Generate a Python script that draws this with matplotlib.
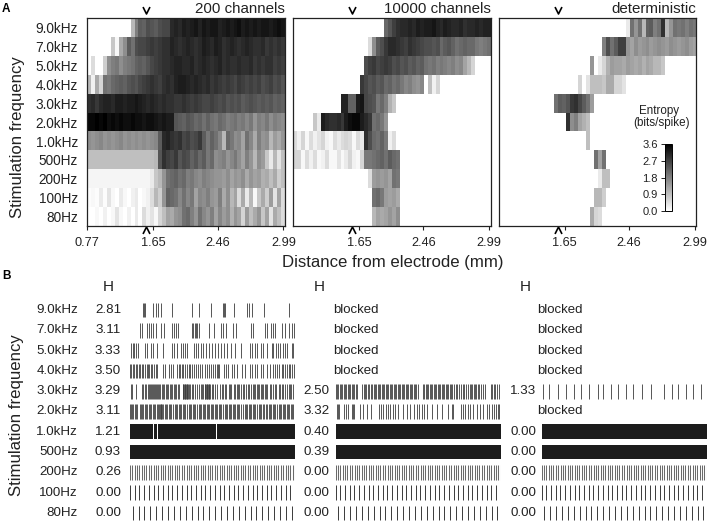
import numpy as np
import matplotlib
matplotlib.use("Agg")
import matplotlib.pyplot as plt
from matplotlib.path import Path

plt.rcParams['font.family'] = ['Liberation Sans', 'DejaVu Sans']

W, H = 708, 524
freq_labels = ["9.0kHz", "7.0kHz", "5.0kHz", "4.0kHz", "3.0kHz", "2.0kHz", "1.0kHz", "500Hz", "200Hz", "100Hz", "80Hz"]
distance_labels = ["0.77", "1.65", "2.46", "2.99"]
distance_bins = [0, 16.7, 33, 49.6]
panel_titles = ["200 channels", "10000 channels", "deterministic"]
cbar_ticks = [0.0, 0.9, 1.8, 2.7, 3.6]
marker_bin = 14.9

# ---- A: entropy (bits/spike) per distance bin
A200 = [
 [0]*11 + [1.0,1.8,2.3,2.2,2.5,2.4,2.3,2.5,2.6, 2.6,3.0,3.1,3.0,3.2,3.1,3.2,3.3,3.1,3.3, 3.2,3.3,3.3,3.1,3.2,3.3,3.2,3.3,3.4,3.2, 3.3,3.2,3.3,3.2,3.3,3.3,3.2,3.3,3.4,3.3],
 [0,0,0,0,0,0,0.8,0.1,1.2,1.6, 2.3,2.0,2.5,2.6,2.6,2.7,2.8,2.7,2.8,2.9, 2.9,3.1,3.0,2.9,3.0,3.1,3.0,2.9,3.0,3.2, 3.1,3.0,3.2,3.1,2.9,3.0,3.1,3.0,2.9,3.0, 3.1,3.0,2.9,2.9,3.0,2.8,2.9,2.8,2.9,2.8],
 [0,0.5,0,0,0.7,1.6,1.8,1.9,1.6,1.8, 1.9,2.0,2.2,2.3,2.2,2.4,2.6,2.7,2.8,2.9, 2.9,3.0,3.1,3.1,3.0,3.0,3.1,2.9,3.0,3.1, 3.0,2.9,3.0,3.1,2.9,3.0,2.9,2.9,3.0,2.9, 2.9,3.0,2.8,2.9,2.8,2.9,2.9,2.7,2.8,2.7],
 [1.0,0.2,1.2,0.6,2.0,1.9,2.1,2.2,2.3,2.2, 2.4,2.5,2.4,2.6,2.7,2.8,2.9,2.8,2.7,2.9, 3.0,2.9,3.1,3.2,3.2,3.1,3.0,3.1,3.0,2.9, 3.0,2.8,2.9,2.8,2.7,2.8,2.7,2.6,2.8,2.7, 2.6,2.7,2.6,2.7,2.5,2.6,2.7,2.5,2.6,2.4],
 [2.9,3.0,2.8,3.0,3.1,3.1,3.0,3.2,3.2,3.1, 3.2,3.2,3.3,3.2,3.1,3.0,3.1,3.0,2.9,3.0, 2.9,2.9,2.8,2.8,2.9,2.8,2.7,2.8,2.7,2.6, 2.6,2.7,2.6,2.5,2.6,2.4,2.5,2.4,2.5,2.3, 2.4,2.5,2.4,2.3,2.4,2.3,2.4,2.2,2.3,2.2],
 [3.5,3.5,3.6,3.5,3.6,3.4,3.5,3.4,3.5,3.4, 3.4,3.5,3.4,3.4,3.3,3.4,3.4,3.3,3.2,3.3, 3.2,3.2,2.4,2.3,2.2,2.4,2.3,2.1,2.2,2.0, 2.2,2.0,1.9,2.1,2.0,1.8,1.9,2.0,1.8,1.9, 1.7,1.9,1.5,1.8,1.7,1.9,1.6,1.8,1.7,1.6],
 [1.6,1.5,1.6,1.7,1.5,1.6,1.5,1.6,1.7,1.5, 1.6,1.5,1.6,1.5,1.6,1.5,1.6,1.7,2.3,3.0, 3.1,2.9,2.8,2.9,2.6,2.7,2.5,2.6,2.8,2.3, 1.9,2.2,2.0,1.7,1.0,2.1,1.9,1.6,1.7,1.3, 2.0,1.7,1.2,1.8,1.5,1.6,1.0,1.4,1.2,1.5],
 [0.9]*17 + [1.0,2.4,2.9,2.7,2.6,2.8,2.4,2.6,2.5,2.2,2.4,2.1,2.3,1.9,2.1,1.6,1.7,1.8,1.5,1.7,1.9,1.6,1.3,1.8,1.5,1.0,1.6,1.4,0.8,0.3,1.0,0.4,0.9],
 [0.15]*16 + [0.3,0.8,1.0,1.5,2.0,2.1,2.2,2.0,2.1,1.8,1.9,1.7,1.6,1.8,1.7,1.6,1.5,1.5,1.4,1.6,1.3,1.5,1.4,1.6,1.2,1.5,1.3,1.4,1.1,1.2,0.9,1.2,0.7,0.9],
 [0.05,0.1,0.05,0.3,0.05,0.4,0.1,0.0,0.3,0.1, 0.0,0.2,0.3,0.0,0.1,0.2, 0.5,1.0,0.7,1.5, 2.2,2.1,2.0,1.7,2.0,1.7,1.9,1.3,1.7,1.6, 1.8,1.5,1.4,1.8,1.2,1.6,1.0,1.3,0.5,1.2, 0.3,1.0,0.1,0.8,1.2,0.7,1.4,0.4,1.3,0.5],
 [0,0,0.1,0,0.2,0,0.1,0.4,0.1,0, 0.2,0,0.3,0,0.5,0.2,0.4,0.1,0.6,0.9, 1.3,1.2,1.5,1.6,2.0,2.1,1.8,1.5,2.0,1.7, 1.5,1.8,1.3,1.7,1.4,1.6,1.1,1.5,1.3,0.6, 1.4,0.9,1.2,1.5,0.8,1.3,0.4,1.2,0.9,0.5],
]
A10000 = [
 [0]*23 + [2.1,2.4,2.7,2.9,3.0,3.0,3.1,3.0,3.2,3.1,3.2,3.2,3.3,3.1,3.0,3.2,3.1,3.0,3.0,3.1,2.9,3.0,3.0,3.1,3.0,3.1,3.1],
 [0]*19 + [0.5,1.6,2.3,2.5,2.8,3.0,3.0,2.9,2.8,2.7, 2.9,2.8,2.7,2.6,2.5,2.5,2.4,2.5,2.1,2.3, 2.4,2.2,2.0,2.1,2.2,2.1,2.1,1.9,1.8,1.9, 2.0],
 [0]*18 + [2.5,2.7,2.8,2.6,2.7,2.8,2.7,2.5,2.6,2.4, 2.5,2.3,2.4,2.2,2.3,2.0,1.9,2.0,1.8,1.9, 1.8,1.7,1.8,1.6,1.7,1.3,1.0,0.6],
 [0]*17 + [2.8,2.6,2.4,2.5,2.3,2.4,2.1,2.2,2.0,2.1, 1.9,1.7,1.8,1.6,1.5,1.7,0,0.9,0.2,0.6],
 [0]*12 + [3.1,3.1,2.2,2.2,3.2,3.3,2.6,2.5,2.4,1.9,2.1,1.8,1.1,0.8],
 [0]*5 + [0.8,0.3,3.2,3.0,2.9,2.9,3.0,2.8,3.2,3.4,3.5,3.5,3.2,3.0,2.8,2.0,2.1,1.9,1.5],
 [0.5,0.2,0.6,0.1,0.5,0.2,0.4,0.6,0.2,0.1, 0.5,0.3,0.5,0.6,0.5,0.1,0.5,0.3,2.9,2.5, 2.1,2.0,2.2,1.9,0.2,0.5],
 [0.6,0.6,0.1,0.5,0.2,0.5,0.1,0.2,0.5,0.1, 0.1,0.4,0.1,0.3,0.6,0.2,0.1,0.6,1.9,1.9, 2.0,2.1,2.2,2.0,2.3,2.1,2.0],
 [0]*19 + [0.5,1.4,1.5,1.4,1.5,1.3,2.0,1.9],
 [0]*20 + [2.0,2.1,1.9,1.4,1.3,1.4,1.2],
 [0]*20 + [1.0,1.3,1.2,1.3,1.5,1.3,1.6],
]
Adet = [
 [0]*32 + [0.3,2.0,1.5,2.0,1.0,2.2,2.3,1.8,2.0,2.9,1.0,1.5,2.0,1.9,2.0,1.8,2.0,1.9],
 [0]*26 + [1.8,2.5,2.0,2.3,2.7,2.7,1.5,1.3,1.6,1.4,1.5,1.6,1.4,1.5,1.6,1.5,1.4,1.6,1.5,1.4,1.5,1.6,1.4,1.3],
 [0]*23 + [1.5,0,0.3,0.6,1.1,1.4,1.3,1.3,1.2,1.4,1.3,1.2,1.3,1.1,1.3,1.2,1.0,1.0,0.8],
 [0]*20 + [0.6,0,0.4,0.9,0.9,0.9,0.8,1.2,1.2,0.6,0.6,0.4],
 [0]*14 + [2.0,2.3,2.2,2.4,2.8,2.9,2.6,2.3,2.0,1.4],
 [0]*17 + [2.9,1.6,1.8,1.3,1.1,0.9],
 [0]*22 + [0.9],
 [0]*24 + [2.0,1.3,2.0],
 [0]*25 + [0.3,0.9,0.9],
 [0]*24 + [1.0,1.0,0.7],
 [0]*23 + [1.2,0.6,0.5],
]

# ---- B: spike times along the fibre recording window (window = 0..495)
s9k = [38,41,44,70,77,83,93,126,186,207,242,278,282,286,312,352,358,365,402,476]
s7k = [30,37,50,57,62,68,77,93,103,126,132,138,143,186,190,194,198,202,207,238,252,274,280,288,310,318,363,370,406,412,422,428,436,456,465,478,486,492]
s5k = [4,8,13,18,23,44,50,63,70,80,100,126,133,140,153,160,166,172,192,198,204,214,220,228,238,246,255,265,272,282,292,302,315,333,360,366,376,382,392,400,412,425,430,438,445,450,460,465,472,485,490,494]
s4k = [0,4,8,13,17,22,26,30,36,40,44,50,54,58,63,67,72,78,82,100,104,118,122,128,142,146,150,155,160,165,170,177,181,187,192,198,203,210,216,226,232,238,244,250,255,260,264,268,283,288,293,305,312,322,337,344,360,366,376,382,392,400,410,420,430,436,440,448,456,460,465,470,476,480,486,492]
s3k = [2,5,18,36,40,44,49,53,57,60,63,66,69,72,75,78,81,84,87,91,95,99,103,107,111,115,119,123,127,131,135,139,143,147,158,160,162,164,166,168,170,172,174,176,180,186,190,196,202,206,212,216,220,224,226,228,230,232,234,236,238,240,246,250,256,262,270,276,280,284,288,296,300,304,312,316,320,324,328,334,338,342,348,354,358,362,368,372,376,380,384,388,392,396,400,404,408,412,420,424,428,434,438,446,450,456,460,464,470,476,480,484,490,494]
s2k = [0,3,6,10,14,18,22,30,33,36,39,44,48,52,56,60,64,68,72,76,80,84,88,90,92,94,96,100,104,108,112,116,120,124,130,134,138,142,146,150,154,158,162,166,170,176,180,184,188,192,196,200,206,210,214,218,222,226,230,234,238,242,246,250,254,258,262,266,270,274,280,284,288,292,296,300,304,308,312,316,320,324,328,332,340,344,348,352,356,360,364,368,372,376,382,386,390,394,398,402,408,412,416,420,424,428,432,436,442,446,450,454,458,462,466,470,474,478,482,486,490,494]
s200 = [0,7,14,21,28,35,42,49,57,64,71,78,85,92,99,106,113,120,127,134,141,148,156,163,170,177,184,191,198,205,212,219,226,233,240,247,255,262,269,276,283,290,297,304,311,318,325,332,339,346,354,361,368,375,382,389,396,403,410,417,424,431,438,445,453,460,467,474,481,488,495]
s100 = [0,14,28,42,56,71,85,99,113,127,141,155,170,184,198,212,226,240,254,269,283,297,311,325,339,354,368,382,396,410,424,438,453,467,481,495]
s80 = [8,26,43,61,79,96,114,132,149,167,185,203,220,238,256,273,291,309,326,344,362,379,397,415,432,450,468,485]
c2_3k = [0,4,8,12,16,20,24,28,32,36,40,44,48,52,56,60,64,80,84,88,92,96,100,106,110,114,118,122,126,130,134,138,142,146,150,154,158,162,166,170,174,178,182,186,190,194,198,202,206,210,214,218,222,226,230,234,238,242,246,262,266,270,274,278,282,286,290,294,298,302,306,310,314,318,322,326,330,334,338,342,346,350,356,360,364,370,376,382,386,390,396,402,406,410,414,418,422,426,430,436,442,448,466,470,474,478,484,490]
c2_2k = [3,7,10,26,30,36,48,52,56,73,83,93,106,130,136,142,150,156,163,173,178,188,203,213,223,236,243,250,258,266,274,288,303,318,336,348,352,375,381,388,396,403,411,423,433,443,453,460,468,474,480,486,490]
c3_3k = [5,22,50,72,98,118,142,168,185,208,230,252,275,300,328,368,390,410,432,455,478]
band_1k_c1 = [(0,68),(72,82),(85,259),(262,461),(463,495)]
band_full = [(0,495)]

h_c1 = ["2.81","3.11","3.33","3.50","3.29","3.11","1.21","0.93","0.26","0.00","0.00"]
h_c2 = [None,None,None,None,"2.50","3.32","0.40","0.39","0.00","0.00","0.00"]
h_c3 = [None,None,None,None,"1.33",None,"0.00","0.00","0.00","0.00","0.00"]
spikes_c1 = [s9k,s7k,s5k,s4k,s3k,s2k,band_1k_c1,band_full,s200,s100,s80]
spikes_c2 = [None,None,None,None,c2_3k,c2_2k,band_full,band_full,s200,s100,s80]
spikes_c3 = [None,None,None,None,c3_3k,None,band_full,band_full,s200,s100,s80]


def rect(x0, y0, x1, y1):
    return [x0/W, 1-y1/H, (x1-x0)/W, (y1-y0)/H]


def pad(rows):
    return np.array([list(r) + [0]*(50-len(r)) for r in rows], dtype=float)


fig = plt.figure(figsize=(W/100, H/100), dpi=100, facecolor='white')
chevron = Path([(-1, -1), (0, 1), (1, -1)], [Path.MOVETO, Path.LINETO, Path.LINETO])
chevron_dn = Path([(-1, 1), (0, -1), (1, 1)], [Path.MOVETO, Path.LINETO, Path.LINETO])

panels = [(87, 285, A200), (293, 490.7, A10000), (498.7, 696.3, Adet)]
im = None
for i, (x0, x1, data) in enumerate(panels):
    ax = fig.add_axes(rect(x0, 18.3, x1, 226))
    im = ax.imshow(pad(data), cmap='gray_r', vmin=0, vmax=3.6, aspect='auto',
                   extent=[0, 50, 11, 0], interpolation='nearest')
    ax.set_xlim(0, 50); ax.set_ylim(11, 0)
    first = 0 if i == 0 else 1
    ax.set_xticks(distance_bins[first:])
    ax.set_xticklabels(distance_labels[first:], fontsize=9.2)
    ax.tick_params(axis='x', length=3, width=0.8, pad=5, color='#222222', labelcolor='#222222')
    ax.set_yticks(np.arange(11)+0.5)
    if i == 0:
        ax.set_yticklabels(freq_labels, fontsize=9.8, color='#222222')
        ax.tick_params(axis='y', length=0, pad=6.5)
    else:
        ax.set_yticks([])
    for sp in ax.spines.values():
        sp.set_linewidth(0.9); sp.set_color('#222222')
    ax.text(50, -0.48, panel_titles[i], ha='right', va='center', fontsize=10.9, color='#222222')
    ax.plot([marker_bin], [-0.42], marker=chevron_dn, ms=5, mec='black', mfc='none', mew=1.2,
            clip_on=False, ls='none')
    ax.plot([marker_bin], [11.2], marker=chevron, ms=5, mec='black', mfc='none', mew=1.2,
            clip_on=False, ls='none')

cax = fig.add_axes(rect(665, 144, 672, 211))
cb = fig.colorbar(im, cax=cax, ticks=cbar_ticks)
cax.yaxis.set_ticks_position('left')
cax.tick_params(length=3, width=0.7, pad=2, labelsize=8, color='#222222', labelcolor='#222222')
cb.outline.set_linewidth(0.7)
fig.text(659/W, 1-111/H, "Entropy", ha='center', va='center', fontsize=8.4, color='#222222')
fig.text(661/W, 1-123/H, "(bits/spike)", ha='center', va='center', fontsize=8.4, color='#222222')

fig.text(2/W, 1-9/H, "A", fontweight='bold', fontsize=8.5, ha='left', va='center')
fig.text(2/W, 1-276/H, "B", fontweight='bold', fontsize=8.5, ha='left', va='center')
fig.text(18/W, 1-137/H, "Stimulation frequency", rotation=90, ha='center', va='center', fontsize=12.1, color='#222222')
fig.text(17/W, 1-415/H, "Stimulation frequency", rotation=90, ha='center', va='center', fontsize=12.1, color='#222222')
fig.text(393/W, 1-263/H, "Distance from electrode (mm)", ha='center', va='center', fontsize=12.1, color='#222222')

columns = [
    (130, spikes_c1, h_c1, -27, 108),
    (335.7, spikes_c2, h_c2, -19, 319),
    (541.7, spikes_c3, h_c3, -15, 525),
]
for j, (x0, spikes, hvals, hx, hhead) in enumerate(columns):
    ax = fig.add_axes(rect(x0, 299.85, x0+165, 523.15))
    ax.set_xlim(0, 495); ax.set_ylim(10.5, -0.5); ax.axis('off')
    for r in range(11):
        sp = spikes[r]
        if sp is None:
            ax.text(-9 if j == 1 else -15, r, "blocked", ha='left', va='center', fontsize=9.5,
                    color='#222222', clip_on=False)
        else:
            if isinstance(sp[0], tuple):
                ax.broken_barh([(a, b-a) for a, b in sp], (r-0.36, 0.72), facecolor='#1c1c1c',
                               edgecolor='none')
            else:
                lw = 0.6 if r <= 5 else (0.75 if sp is s200 else 0.7)
                col = '#3a3a3a' if sp is not s200 else '#6a6a6a'
                ax.eventplot([sp], lineoffsets=r, linelengths=0.72, linewidths=lw, colors=col)
            ax.text(hx, r, hvals[r], ha='right', va='center', fontsize=9.6, color='#222222', clip_on=False)
    ax.set_xlim(0, 495); ax.set_ylim(10.5, -0.5)
    if j == 0:
        for r, lab in enumerate(freq_labels):
            ax.text(-156, r, lab, ha='right', va='center', fontsize=9.6, color='#222222', clip_on=False)
    fig.text(hhead/W, 1-287/H, "H", ha='center', va='center', fontsize=11, color='#222222')

fig.savefig("out.png", dpi=100)
